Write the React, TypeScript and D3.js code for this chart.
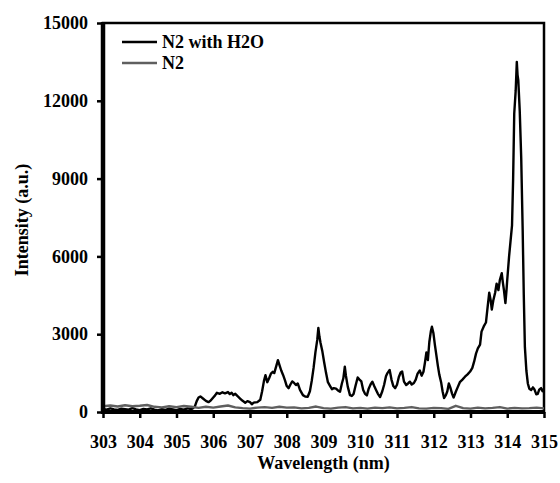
import React, { useRef, useEffect } from 'react';
import * as d3 from 'd3';

// N2 with H2O emission spectrum: [wavelength nm, intensity a.u.]
const n2WithH2O: [number, number][] = [
  [303.0, 120], [303.1, 90], [303.2, 140], [303.3, 100], [303.4, 80], [303.5, 130],
  [303.6, 110], [303.7, 90], [303.8, 150], [303.9, 100], [304.0, 70], [304.1, 120],
  [304.2, 100], [304.3, 140], [304.4, 90], [304.5, 60], [304.6, 110], [304.7, 80],
  [304.8, 130], [304.9, 100], [305.0, 70], [305.1, 120], [305.2, 90], [305.3, 140],
  [305.4, 110], [305.45, 150], [305.5, 220], [305.55, 420], [305.6, 560], [305.65, 600],
  [305.72, 520], [305.8, 430], [305.87, 380], [305.93, 440], [306.0, 560], [306.05, 640],
  [306.1, 740], [306.18, 700], [306.25, 760], [306.32, 720], [306.4, 770], [306.45, 690],
  [306.5, 740], [306.55, 650], [306.6, 700], [306.67, 600], [306.73, 520], [306.8, 430],
  [306.87, 360], [306.93, 420], [307.0, 380], [307.05, 300], [307.1, 360], [307.2, 380],
  [307.28, 470], [307.33, 800], [307.38, 1200], [307.42, 1420], [307.47, 1150], [307.52, 1300],
  [307.57, 1480], [307.62, 1550], [307.66, 1500], [307.72, 1800], [307.76, 2000], [307.8, 1820],
  [307.85, 1600], [307.9, 1430], [307.95, 1230], [308.0, 1000], [308.05, 920], [308.1, 1060],
  [308.15, 1180], [308.2, 1120], [308.25, 1040], [308.3, 1100], [308.36, 850], [308.44, 650],
  [308.5, 600], [308.57, 590], [308.63, 800], [308.68, 1200], [308.73, 1700], [308.78, 2300],
  [308.83, 2780], [308.86, 3240], [308.89, 2900], [308.92, 2660], [308.97, 2330], [309.02, 1900],
  [309.07, 1500], [309.12, 1150], [309.18, 1000], [309.23, 880], [309.28, 920], [309.34, 900],
  [309.4, 820], [309.45, 780], [309.5, 1100], [309.54, 1300], [309.58, 1750], [309.61, 1400],
  [309.66, 980], [309.72, 650], [309.77, 620], [309.82, 700], [309.87, 1000], [309.93, 1330],
  [309.98, 1250], [310.03, 1180], [310.08, 850], [310.13, 700], [310.18, 640], [310.23, 900],
  [310.28, 1060], [310.33, 1170], [310.38, 1000], [310.43, 850], [310.48, 700], [310.54, 580],
  [310.6, 800], [310.65, 1050], [310.7, 1380], [310.74, 1500], [310.8, 1620], [310.85, 1250],
  [310.9, 1000], [310.95, 920], [311.0, 1050], [311.05, 1350], [311.1, 1520], [311.14, 1560],
  [311.19, 1170], [311.25, 1040], [311.3, 1100], [311.35, 1170], [311.4, 1060], [311.46, 1120],
  [311.51, 1250], [311.56, 1480], [311.62, 1600], [311.67, 1400], [311.72, 1550], [311.76, 1900],
  [311.8, 2300], [311.84, 2000], [311.88, 2700], [311.92, 3100], [311.95, 3290], [311.99, 3050],
  [312.03, 2600], [312.07, 2200], [312.11, 1800], [312.15, 1450], [312.2, 1150], [312.24, 800],
  [312.28, 540], [312.33, 650], [312.37, 800], [312.41, 1100], [312.45, 950], [312.5, 700],
  [312.54, 560], [312.6, 780], [312.65, 950], [312.71, 1150], [312.78, 1250], [312.85, 1360],
  [312.92, 1450], [312.99, 1560], [313.05, 1700], [313.1, 1950], [313.15, 2250], [313.2, 2450],
  [313.26, 2600], [313.3, 3100], [313.36, 3300], [313.42, 3450], [313.47, 4100], [313.51, 4600],
  [313.55, 4300], [313.58, 3950], [313.62, 4300], [313.67, 4600], [313.71, 4950], [313.76, 4700],
  [313.8, 5100], [313.85, 5350], [313.88, 5000], [313.91, 4700], [313.95, 4200], [313.98, 4700],
  [314.0, 5100], [314.05, 6000], [314.09, 6600], [314.13, 7200], [314.16, 9000], [314.19, 11500],
  [314.23, 12400], [314.26, 13500], [314.28, 13000], [314.3, 12800], [314.34, 11600], [314.38, 9800],
  [314.42, 7000], [314.45, 4500], [314.48, 2500], [314.52, 1600], [314.56, 1100], [314.6, 900],
  [314.65, 850], [314.7, 950], [314.74, 870], [314.79, 680], [314.83, 700], [314.87, 860],
  [314.92, 920], [314.96, 800], [315.0, 900],
];

// Pure N2 spectrum
const n2Only: [number, number][] = [
  [303.0, 220], [303.2, 250], [303.4, 210], [303.6, 260], [303.8, 220], [304.0, 240],
  [304.2, 270], [304.4, 200], [304.6, 180], [304.8, 220], [305.0, 190], [305.2, 230],
  [305.4, 200], [305.6, 160], [305.8, 200], [306.0, 170], [306.2, 210], [306.4, 250],
  [306.6, 180], [306.8, 150], [307.0, 130], [307.2, 170], [307.4, 190], [307.6, 160],
  [307.8, 200], [308.0, 170], [308.2, 180], [308.4, 140], [308.6, 160], [308.8, 210],
  [309.0, 150], [309.2, 130], [309.4, 170], [309.6, 190], [309.8, 140], [310.0, 160],
  [310.2, 130], [310.4, 170], [310.6, 150], [310.8, 180], [311.0, 140], [311.2, 160],
  [311.4, 190], [311.6, 140], [311.8, 130], [312.0, 160], [312.2, 150], [312.4, 120],
  [312.6, 240], [312.8, 150], [313.0, 130], [313.2, 170], [313.4, 140], [313.6, 160],
  [313.8, 190], [314.0, 130], [314.2, 160], [314.4, 140], [314.6, 150], [314.8, 170],
  [315.0, 140],
];

const xTicks = [303, 304, 305, 306, 307, 308, 309, 310, 311, 312, 313, 314, 315];
const yTicks = [0, 3000, 6000, 9000, 12000, 15000];
const seriesNames = ['N2 with H2O', 'N2'];
const seriesColors = ['#000000', '#5f5f5f'];

export default function App() {
  const svgRef = useRef<SVGSVGElement>(null);

  useEffect(() => {
    if (!svgRef.current) return;
    const svg = d3.select(svgRef.current);
    svg.selectAll('*').remove();

    const font = '"Liberation Serif", "Times New Roman", serif';
    const left = 103, right = 544, top = 23, bottom = 412;

    const x = d3.scaleLinear().domain([303, 315]).range([left, right]);
    const y = d3.scaleLinear().domain([0, 15000]).range([bottom, top]);

    const line = d3.line<[number, number]>()
      .x(d => x(d[0]))
      .y(d => y(d[1]));

    // plot frame
    svg.append('rect')
      .attr('x', left).attr('y', top)
      .attr('width', right - left).attr('height', bottom - top)
      .attr('fill', 'none').attr('stroke', '#000').attr('stroke-width', 2.5);

    // series
    [n2WithH2O, n2Only].forEach((data, i) => {
      svg.append('path')
        .datum(data)
        .attr('d', line)
        .attr('fill', 'none')
        .attr('stroke', seriesColors[i])
        .attr('stroke-width', 2.4)
        .attr('stroke-linejoin', 'round');
    });

    // y axis
    const yAxis = svg.append('g')
      .attr('transform', `translate(${left},0)`)
      .call(d3.axisLeft(y).tickValues(yTicks).tickSize(6).tickPadding(9).tickFormat(d3.format('d')));
    yAxis.select('.domain').remove();
    yAxis.selectAll('line').attr('stroke-width', 2.5);
    yAxis.selectAll('text')
      .attr('font-family', font).attr('font-weight', 'bold').attr('font-size', 18).attr('fill', '#000');

    // x axis
    const xAxis = svg.append('g')
      .attr('transform', `translate(0,${bottom})`)
      .call(d3.axisBottom(x).tickValues(xTicks).tickSize(6).tickPadding(17).tickFormat(d3.format('d')));
    xAxis.select('.domain').remove();
    xAxis.selectAll('line').attr('stroke-width', 2.5);
    xAxis.selectAll('text')
      .attr('font-family', font).attr('font-weight', 'bold').attr('font-size', 18).attr('fill', '#000');

    // thick left & bottom axis lines
    svg.append('line')
      .attr('x1', left).attr('x2', left).attr('y1', top - 1).attr('y2', bottom + 2)
      .attr('stroke', '#000').attr('stroke-width', 4.5);
    svg.append('line')
      .attr('x1', left - 2).attr('x2', right + 1).attr('y1', bottom).attr('y2', bottom)
      .attr('stroke', '#000').attr('stroke-width', 4);

    // axis titles
    svg.append('text')
      .attr('x', (left + right) / 2).attr('y', 469)
      .attr('text-anchor', 'middle')
      .attr('font-family', font).attr('font-weight', 'bold').attr('font-size', 18)
      .text('Wavelength (nm)');
    svg.append('text')
      .attr('transform', `translate(28,220) rotate(-90)`)
      .attr('text-anchor', 'middle')
      .attr('font-family', font).attr('font-weight', 'bold').attr('font-size', 18)
      .text('Intensity (a.u.)');

    // legend
    seriesNames.forEach((name, i) => {
      const ly = 42 + i * 21;
      svg.append('line')
        .attr('x1', 122).attr('x2', 157).attr('y1', ly).attr('y2', ly)
        .attr('stroke', seriesColors[i]).attr('stroke-width', 2.5);
      svg.append('text')
        .attr('x', 162).attr('y', ly + 6)
        .attr('font-family', font).attr('font-weight', 'bold').attr('font-size', 18)
        .text(name);
    });
  }, []);

  return (
    <svg
      ref={svgRef}
      width={560}
      height={483}
      style={{ position: 'absolute', left: 0, top: 0, background: '#fff' }}
    />
  );
}
